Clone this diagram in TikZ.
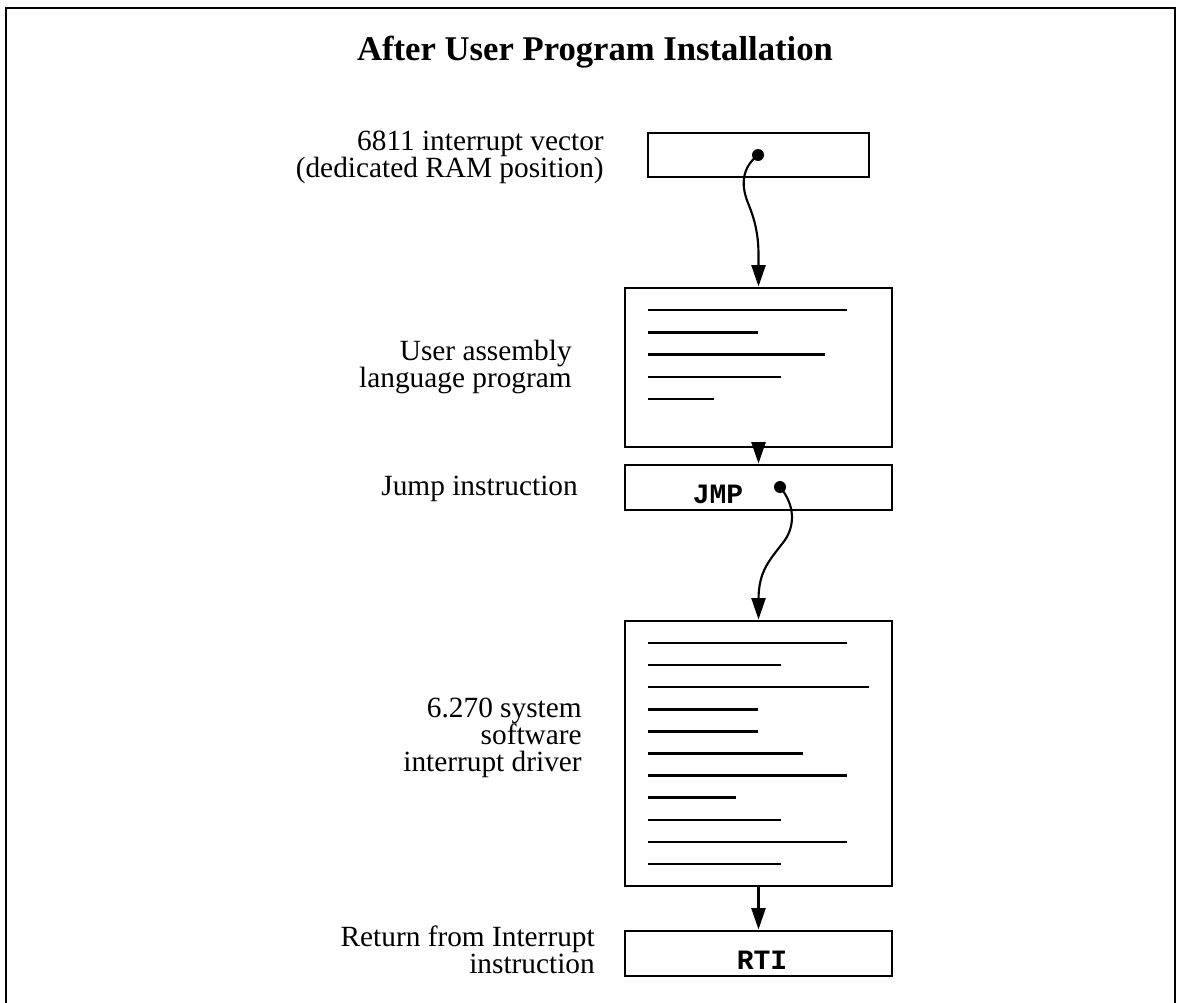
\documentclass[tikz,border=0pt]{standalone}
\usepackage{fontspec}
\setmainfont{Liberation Serif}
\setmonofont{Liberation Mono}
\usetikzlibrary{arrows.meta,positioning}

\begin{document}
\begin{tikzpicture}[
    x=0.75pt, y=-0.75pt,
    box/.style={rectangle, draw, line width=2.2pt, minimum width=200.25pt, inner sep=0pt},
    textline/.style={line width=1.9pt},
    arrow/.style={-{Triangle[length=16pt,width=10.5pt]}, line width=1.6pt},
    dot/.style={circle, fill, inner sep=0pt, minimum size=9pt},
    lbl/.style={anchor=east, align=right, inner sep=0pt, font=\fontsize{22}{20.25}\selectfont},
    code/.style={anchor=base, inner sep=0pt, font=\fontsize{21}{24}\selectfont\ttfamily\bfseries}
]
\useasboundingbox (0,0) rectangle (1178,1003);
% frame, open at the bottom
\draw[line width=2pt] (6,1003) |- (1175,8) -- (1175,1003);

\node[font=\fontsize{26}{30}\selectfont\bfseries, anchor=base, inner sep=0pt] (title) at (595,60) {After User Program Installation};

% memory blocks
\node[box, minimum width=165.75pt, minimum height=33pt] (vec) at (758.5,155) {};
\node[box, minimum height=119.25pt] (user) at (758.5,367.5) {};
\node[box, minimum height=33.75pt] (jmp) at (758.5,487.5) {};
\node[box, minimum height=198.75pt] (drv) at (758.5,753.5) {};
\node[box, minimum height=33.75pt] (rti) at (758.5,953.5) {};

\node[code] (jmptxt) at (718,503) {JMP};
\node[code] (rtitxt) at (762,969) {RTI};

\node[dot] (vdot) at (758,155) {};
\node[dot] (jdot) at (780,487) {};

% listing lines
\foreach \xe [count=\i] in {847,758,825,781,714}
  \draw[textline] (648,{288+22.2*\i}) -- (\xe,{288+22.2*\i});
\foreach \xe [count=\i from 0] in {847,781,869,758,758,803,847,736,781,847,781}
  \draw[textline] (648,{643+22.1*\i}) -- (\xe,{643+22.1*\i});

% labels
\node[lbl] (veclbl) at (604,157) {6811 interrupt vector\\(dedicated RAM position)};
\node[lbl] (userlbl) at (572,367) {User assembly\\language program};
\node[lbl] (jmplbl) at (578,489) {Jump instruction};
\node[lbl] (drvlbl) at (582,738) {6.270 system\\software\\interrupt driver};
\node[lbl] (rtilbl) at (595,950) {Return from Interrupt\\instruction};

% flow
\draw[arrow] (vdot.center) .. controls (743,167) and (740,183) .. (748,203)
    .. controls (755,220) and (758.5,235) .. (758.5,255) -- (user.north);
\draw[arrow] (user.south) -- (jmp.north);
\draw[arrow] (jdot.center) .. controls (795,505) and (795,525) .. (785,540)
    .. controls (770,560) and (758.5,570) .. (758.5,600) -- (drv.north);
\draw[arrow] (drv.south) -- (rti.north);
\end{tikzpicture}
\end{document}
